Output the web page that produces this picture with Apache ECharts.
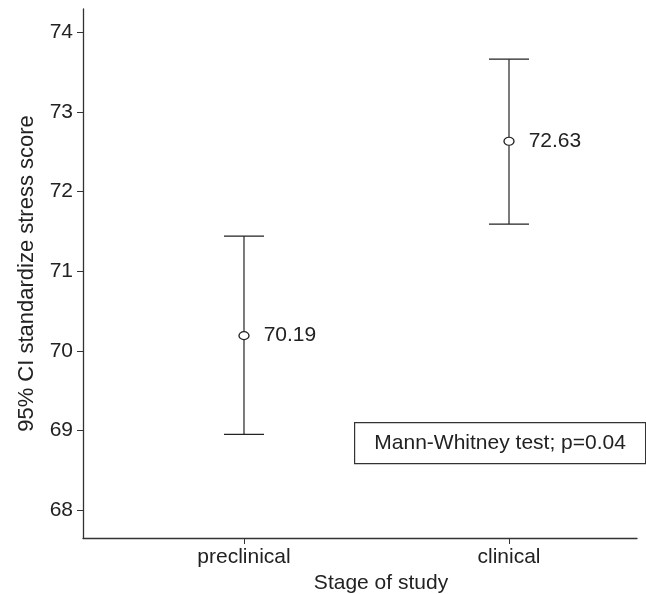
<!DOCTYPE html>
<html>
<head>
<meta charset="utf-8">
<script src="https://cdn.jsdelivr.net/npm/echarts@6/dist/echarts.min.js"></script>
<style>
html,body{margin:0;padding:0;background:#fff;}
#c{width:646px;height:594px;}
</style>
</head>
<body>
<div id="c"></div>
<script>
var categories = ['preclinical', 'clinical'];
var categoryPos = [1, 2];
var means = [70.19, 72.63];
var lower = [68.95, 71.59];
var upper = [71.44, 73.66];
var yTicks = [68, 69, 70, 71, 72, 73, 74];
var annotation = 'Mann-Whitney test; p=0.04';

var FONT = '"Liberation Sans", Arial, Helvetica, sans-serif';
var INK = '#222';
var FS = 21;

var chart = echarts.init(document.getElementById('c'), null, {renderer: 'canvas'});

var errData = categoryPos.map(function (x, i) { return [x, lower[i], upper[i]]; });
var ptData = categoryPos.map(function (x, i) { return [x, means[i]]; });

chart.setOption({
  animation: false,
  backgroundColor: '#fff',
  grid: {left: 83, right: 9, top: 9, bottom: 56, containLabel: false, outerBoundsMode: 'none'},
  xAxis: {
    type: 'value',
    min: 0.3925,
    max: 2.483,
    name: 'Stage of study',
    nameLocation: 'middle',
    nameGap: 33,
    nameTextStyle: {fontFamily: FONT, fontSize: FS, color: INK, padding: [0, 0, 0, 42]},
    splitLine: {show: false},
    axisLine: {show: true, lineStyle: {color: '#333', width: 1.3}},
    axisTick: {show: true, length: 6, lineStyle: {color: '#333'}, customValues: categoryPos},
    axisLabel: {
      fontFamily: FONT, fontSize: FS, color: INK, margin: 9,
      customValues: categoryPos,
      formatter: function (v) { var i = categoryPos.indexOf(v); return i >= 0 ? categories[i] : ''; }
    }
  },
  yAxis: {
    type: 'value',
    min: 67.65,
    max: 74.29,
    name: '95% CI standardize stress score',
    nameLocation: 'middle',
    nameGap: 45,
    nameTextStyle: {fontFamily: FONT, fontSize: 22, color: INK},
    splitLine: {show: false},
    axisLine: {show: true, lineStyle: {color: '#333', width: 1.3}},
    axisTick: {show: true, length: 6, lineStyle: {color: '#333'}, customValues: yTicks},
    axisLabel: {fontFamily: FONT, fontSize: FS, color: INK, margin: 10, customValues: yTicks}
  },
  graphic: [{
    type: 'group',
    left: 354,
    top: 422,
    children: [{
      type: 'rect',
      shape: {x: 0, y: 0, width: 291, height: 41},
      style: {fill: '#fff', stroke: '#333', lineWidth: 1.2}
    }, {
      type: 'text',
      x: 145.5,
      y: 20.5,
      style: {text: annotation, fontFamily: FONT, fontSize: FS, fill: INK, align: 'center', verticalAlign: 'middle'}
    }]
  }],
  series: [{
    type: 'custom',
    data: errData,
    renderItem: function (params, api) {
      var x = api.value(0);
      var lo = api.coord([x, api.value(1)]);
      var hi = api.coord([x, api.value(2)]);
      var hw = 20;
      var st = {stroke: '#222', lineWidth: 1.2};
      return {
        type: 'group',
        children: [
          {type: 'line', shape: {x1: lo[0], y1: lo[1], x2: hi[0], y2: hi[1]}, style: st},
          {type: 'line', shape: {x1: lo[0] - hw, y1: lo[1], x2: lo[0] + hw, y2: lo[1]}, style: st},
          {type: 'line', shape: {x1: hi[0] - hw, y1: hi[1], x2: hi[0] + hw, y2: hi[1]}, style: st}
        ]
      };
    },
    z: 2
  }, {
    type: 'scatter',
    data: ptData,
    symbol: 'circle',
    symbolSize: [10, 8],
    itemStyle: {color: '#fff', borderColor: '#222', borderWidth: 1.2, opacity: 1},
    label: {
      show: true,
      position: 'right',
      distance: 14,
      fontFamily: FONT,
      fontSize: FS,
      color: INK,
      formatter: function (p) { return p.value[1].toFixed(2); }
    },
    z: 3
  }]
});
</script>
</body>
</html>
